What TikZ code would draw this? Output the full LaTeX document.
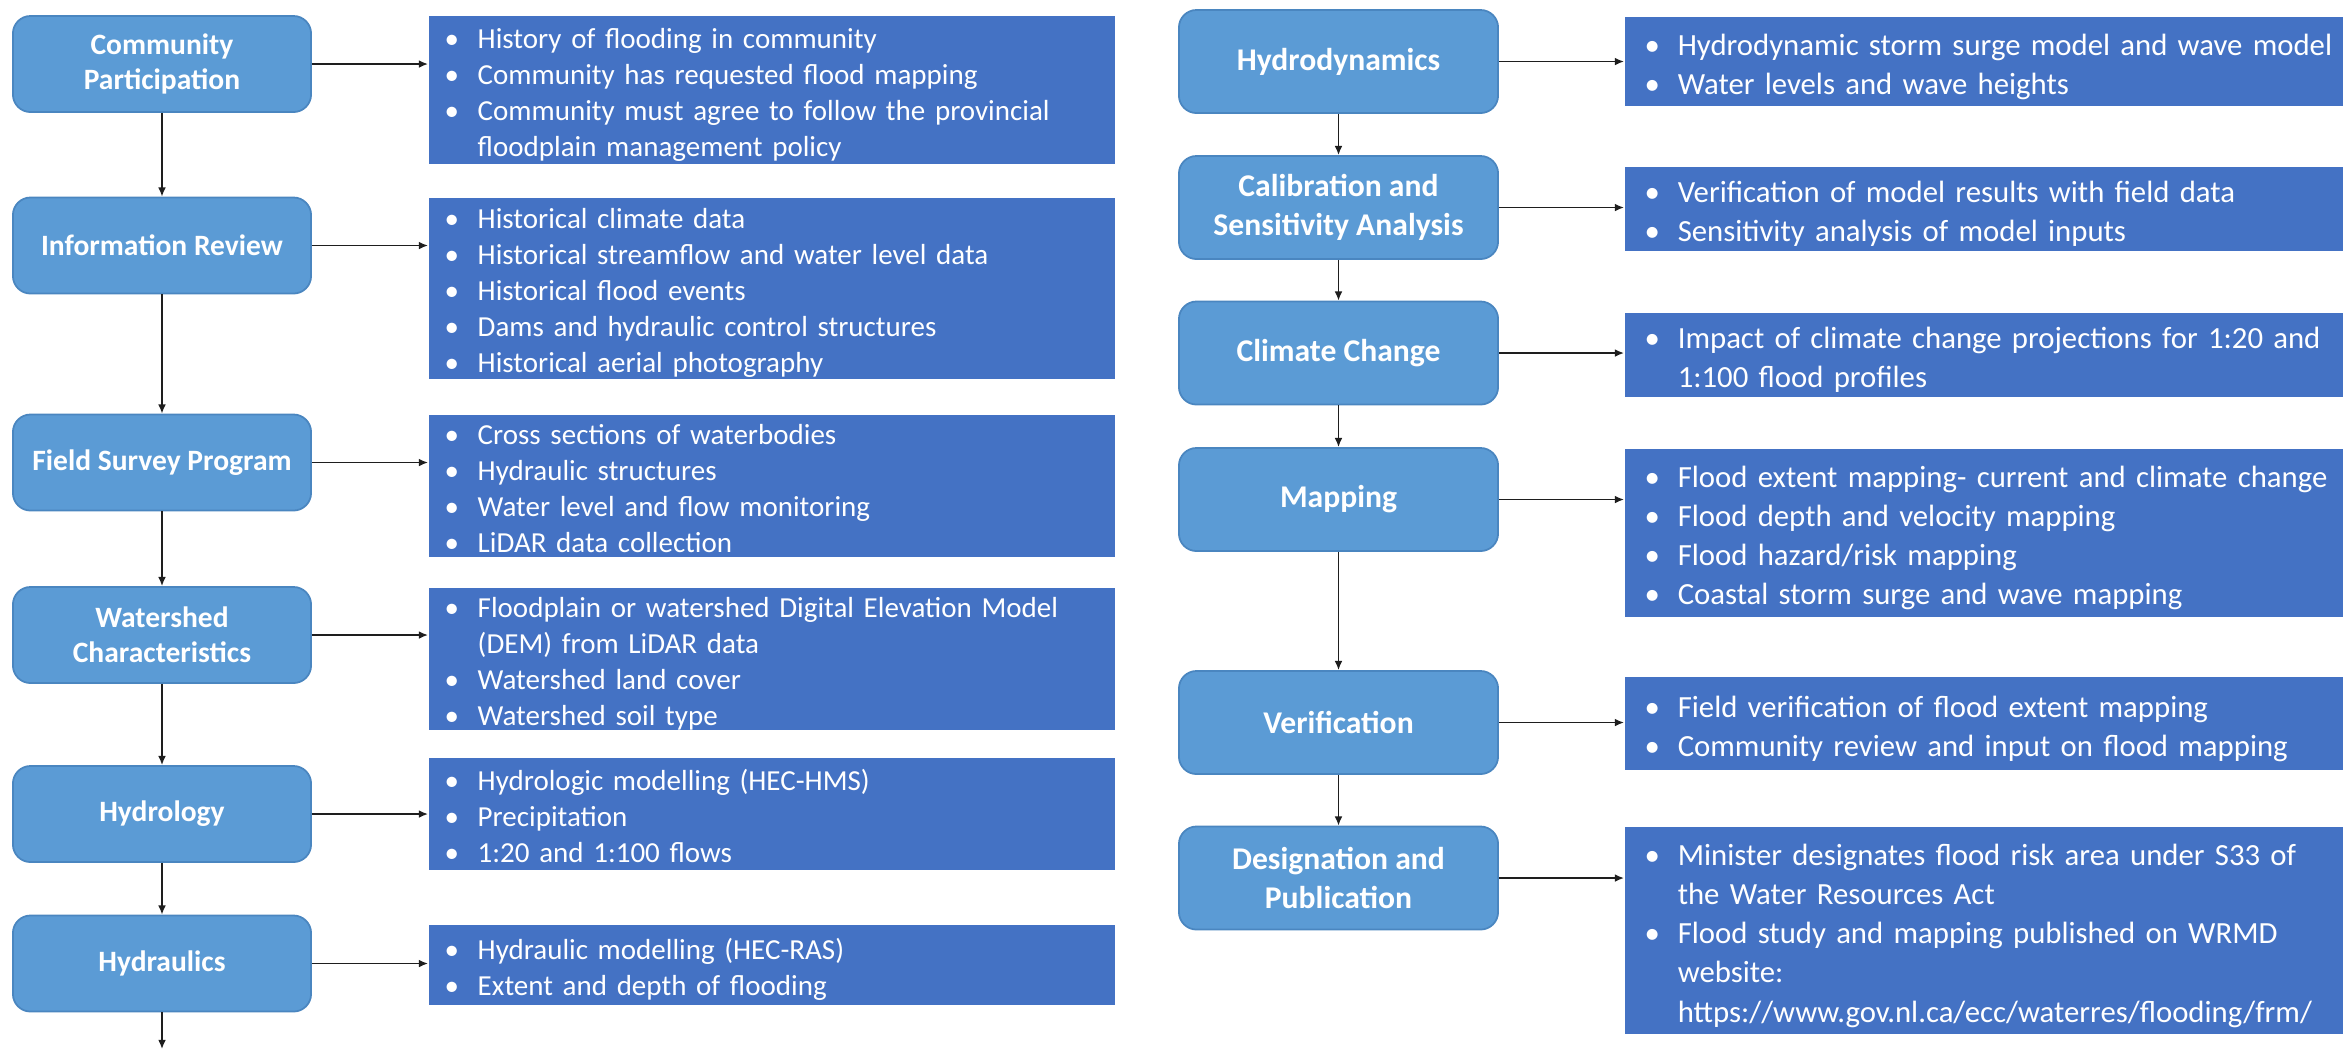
\documentclass[tikz,border=0pt]{standalone}
\usepackage{fontspec}
\setmainfont{Carlito}
\usetikzlibrary{arrows.meta,positioning}
\definecolor{stagefill}{HTML}{5B9BD5}
\definecolor{stageline}{HTML}{4A86C0}
\definecolor{detailfill}{HTML}{4472C4}
\definecolor{link}{HTML}{1E1E1E}
\newlength{\bulind}
\setlength{\bulind}{0.33cm}
\newcommand{\bul}[1]{\par\leftskip=\bulind\noindent\llap{\makebox[\bulind][l]{\textbullet}}\strut#1\strut\par}

\begin{document}
\begin{tikzpicture}[
  x=0.01cm, y=-0.01cm,
  >={Latex[length=2.6pt,width=2.2pt]},
  every node/.append style={text=white},
  lstage/.style={draw=stageline, line width=0.5pt, fill=stagefill, rounded corners=5pt,
    minimum width=2.98cm, minimum height=0.96cm, align=center,
    font=\fontsize{8.4}{10}\selectfont\bfseries},
  rstage/.style={lstage, minimum width=3.19cm, minimum height=1.03cm,
    font=\fontsize{9}{11.1}\selectfont\bfseries},
  ldetail/.style={fill=detailfill, anchor=north west, inner xsep=0.16cm, inner ysep=-1.8pt,
    text width=6.54cm, align=left, minimum height=#1,
    font=\fontsize{8.25}{10.24}\selectfont},
  rdetail/.style={ldetail=#1, inner xsep=0.2cm, text width=7.1cm,
    font=\fontsize{8.75}{11.1}\selectfont},
  link/.style={->, draw=link, line width=0.45pt},
]
\useasboundingbox[fill=white] (0,0) rectangle (2343,1050);
\def\lx{162}
\def\rx{1338.5}
% --- left column: stages ---
\node[lstage] (cp) at (\lx,64) {Community\\Participation};
\node[lstage] (ir) at (\lx,245.5) {Information Review};
\node[lstage] (fs) at (\lx,462.5) {Field Survey Program};
\node[lstage] (wc) at (\lx,635) {Watershed\\Characteristics};
\node[lstage] (hl) at (\lx,814) {Hydrology};
\node[lstage] (hr) at (\lx,963.5) {Hydraulics};
% --- left column: details ---
\node[ldetail=1.48cm] (cpd) at (428,15)
  {\bul{History of flooding in community}
   \bul{Community has requested flood mapping}
   \bul{Community must agree to follow the provincial\\ floodplain management policy}};
\node[ldetail=1.81cm] (ird) at (428,197)
  {\bul{Historical climate data}
   \bul{Historical streamflow and water level data}
   \bul{Historical flood events}
   \bul{Dams and hydraulic control structures}
   \bul{Historical aerial photography}};
\node[ldetail=1.42cm] (fsd) at (428,414)
  {\bul{Cross sections of waterbodies}
   \bul{Hydraulic structures}
   \bul{Water level and flow monitoring}
   \bul{LiDAR data collection}};
\node[ldetail=1.42cm] (wcd) at (428,587)
  {\bul{Floodplain or watershed Digital Elevation Model\\ (DEM) from LiDAR data}
   \bul{Watershed land cover}
   \bul{Watershed soil type}};
\node[ldetail=1.12cm] (hld) at (428,757)
  {\bul{Hydrologic modelling (HEC-HMS)}
   \bul{Precipitation}
   \bul{1:20 and 1:100 flows}};
\node[ldetail=0.80cm] (hrd) at (428,924)
  {\bul{Hydraulic modelling (HEC-RAS)}
   \bul{Extent and depth of flooding}};
% --- right column: stages ---
\node[rstage] (hy) at (\rx,61.5) {Hydrodynamics};
\node[rstage] (cs) at (\rx,207.5) {Calibration and\\Sensitivity Analysis};
\node[rstage] (cc) at (\rx,353) {Climate Change};
\node[rstage] (mp) at (\rx,499.5) {Mapping};
\node[rstage] (vf) at (\rx,722.5) {Verification};
\node[rstage] (dp) at (\rx,878) {Designation and\\Publication};
% --- right column: details ---
\node[rdetail=0.89cm] (hyd) at (1624,16)
  {\bul{Hydrodynamic storm surge model and wave model}
   \bul{Water levels and wave heights}};
\node[rdetail=0.84cm] (csd) at (1624,166)
  {\bul{Verification of model results with field data}
   \bul{Sensitivity analysis of model inputs}};
\node[rdetail=0.84cm] (ccd) at (1624,312)
  {\bul{Impact of climate change projections for 1:20 and\\ 1:100 flood profiles}};
\node[rdetail=1.68cm] (mpd) at (1624,448)
  {\bul{Flood extent mapping- current and climate change}
   \bul{Flood depth and velocity mapping}
   \bul{Flood hazard/risk mapping}
   \bul{Coastal storm surge and wave mapping}};
\node[rdetail=0.93cm] (vfd) at (1624,676)
  {\bul{Field verification of flood extent mapping}
   \bul{Community review and input on flood mapping}};
\node[rdetail=2.07cm] (dpd) at (1624,826)
  {\bul{Minister designates flood risk area under S33 of\\ the Water Resources Act}
   \bul{Flood study and mapping published on WRMD\\ website:\\ https://www.gov.nl.ca/ecc/waterres/flooding/frm/}};
% --- stage to detail ---
\foreach \s in {cp,ir,fs,wc,hl,hr,hy,cs,cc,mp,vf,dp} {
  \draw[link] (\s.east) -- (\s.east -| \s d.west);
}
% --- stage to stage ---
\foreach \a/\b in {cp/ir,ir/fs,fs/wc,wc/hl,hl/hr,hy/cs,cs/cc,cc/mp,mp/vf,vf/dp} {
  \draw[link] (\a.south) -- (\b.north);
}
\coordinate (lend) at (\lx,1049);
\draw[link] (hr.south) -- (lend);
\end{tikzpicture}
\end{document}
